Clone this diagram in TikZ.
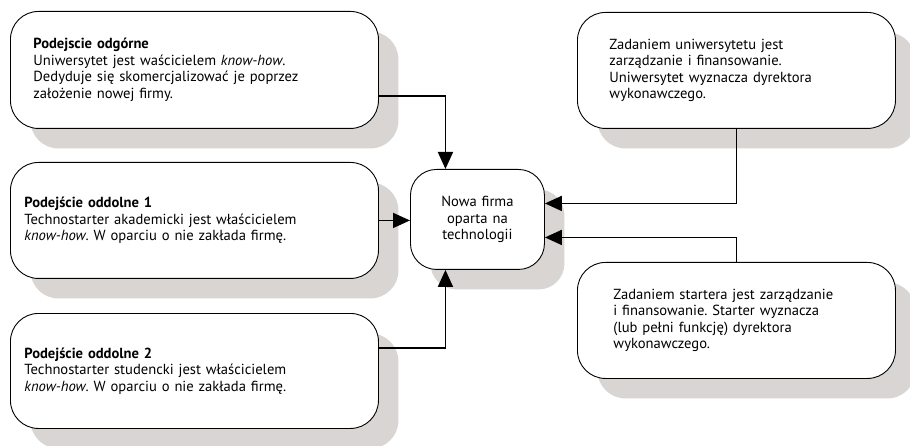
\documentclass[tikz,border=0pt]{standalone}
\usepackage{fontspec}
\setmainfont{PT Sans}
\usetikzlibrary{arrows.meta,shadows}
\definecolor{shade}{RGB}{216,213,210}
\frenchspacing
\tikzset{
  box/.style={draw=black, line width=0.9pt, fill=white, rounded corners=28pt,
    anchor=north west, align=left, inner ysep=0pt,
    font=\fontsize{14.6}{16.6}\selectfont,
    drop shadow={shadow xshift=20pt, shadow yshift=-20pt, fill=shade, opacity=1}},
  conn/.style={line width=1.7pt, -{Triangle[length=17pt,width=15pt]}}
}
\begin{document}
\begin{tikzpicture}[x=1pt,y=-1pt]
\useasboundingbox (0,0) rectangle (910,446);

% left column: three ways of starting a firm
\node[box, inner xsep=23pt, text width=322pt, minimum height=117pt] (top) at (10,11)
  {\textbf{Podejscie odgórne}\\
   Uniwersytet jest waścicielem \textit{know-how}.\\
   Dedyduje się skomercjalizować je poprzez\\
   założenie nowej firmy.};
\node[box, inner xsep=14pt, text width=340pt, minimum height=116pt] (bottomup1) at (10,162)
  {\textbf{Podejście oddolne 1}\\
   Technostarter akademicki jest właścicielem\\
   \textit{know-how}. W oparciu o nie zakłada firmę.};
\node[box, inner xsep=14pt, text width=340pt, minimum height=115pt] (bottomup2) at (10,313)
  {\textbf{Podejście oddolne 2}\\
   Technostarter studencki jest właścicielem\\
   \textit{know-how}. W oparciu o nie zakłada firmę.};

% the new firm in the middle
\node[box, rounded corners=26pt, align=center, inner xsep=0pt, text width=134pt, minimum height=100pt] (firm) at (410,169)
  {Nowa firma\\oparta na\\technologii};

% right column: who manages the firm
\node[box, inner xsep=32pt, text width=254pt, minimum height=116pt] (uni) at (577,12)
  {Zadaniem uniwersytetu jest\\
   zarządzanie i finansowanie.\\
   Uniwersytet wyznacza dyrektora\\
   wykonawczego.};
\node[box, inner xsep=36pt, text width=246pt, minimum height=116pt] (starter) at (577,262)
  {Zadaniem startera jest zarządzanie\\
   i finansowanie. Starter wyznacza\\
   (lub pełni funkcję) dyrektora\\
   wykonawczego.};

% connectors
\draw[conn] ([yshift=-26pt]top.east) -| ([xshift=-32pt]firm.north);
\draw[conn] (bottomup1.east) -- (bottomup1.east -| firm.west);
\draw[conn] ([yshift=23pt]bottomup2.east) -| ([xshift=-32pt]firm.south);
\draw[conn] (uni.south) |- ([yshift=16pt]firm.east);
\draw[conn] (starter.north) |- ([yshift=-18pt]firm.east);
\end{tikzpicture}
\end{document}
